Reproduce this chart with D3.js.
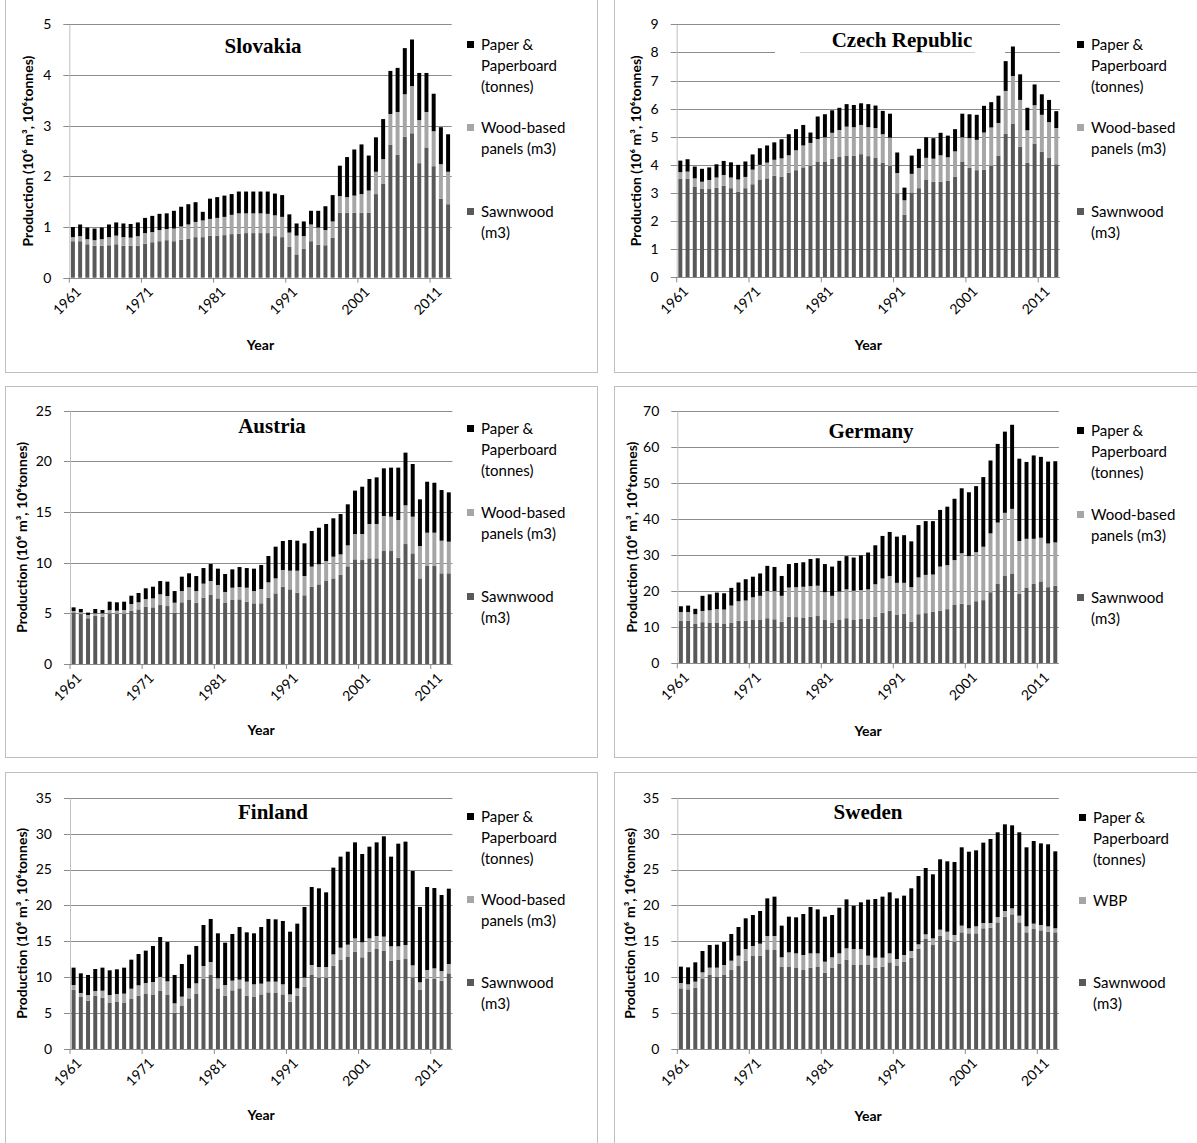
<!DOCTYPE html>
<html>
<head>
<meta charset="utf-8">
<script src="https://cdn.jsdelivr.net/npm/d3@7"></script>
<style>
  body { margin: 0; background: #fff; }
  svg { display: block; }
</style>
</head>
<body>
<script>
// Production of forest products, 1961-2013
const years = [1961,1962,1963,1964,1965,1966,1967,1968,1969,1970,1971,1972,1973,1974,1975,1976,1977,1978,1979,1980,
  1981,1982,1983,1984,1985,1986,1987,1988,1989,1990,1991,1992,1993,1994,1995,1996,1997,1998,1999,2000,
  2001,2002,2003,2004,2005,2006,2007,2008,2009,2010,2011,2012,2013];
const tickYears = [1961, 1971, 1981, 1991, 2001, 2011];
const seriesKeys = ["sawnwood", "panels", "paper"];

// Slovakia
const slovakiaSawnwood = [0.72,0.72,0.66,0.63,0.63,0.64,0.66,0.63,0.63,0.63,0.67,0.70,0.72,0.74,0.72,0.75,0.77,0.80,0.80,0.83,
  0.83,0.84,0.86,0.87,0.88,0.88,0.88,0.88,0.82,0.80,0.61,0.46,0.57,0.72,0.65,0.64,0.79,1.28,1.28,1.28,
  1.28,1.28,1.65,1.85,2.62,2.43,2.78,2.85,2.26,2.57,2.20,1.56,1.45];
const slovakiaPanels = [0.08,0.10,0.10,0.11,0.13,0.16,0.17,0.17,0.16,0.19,0.21,0.20,0.22,0.22,0.25,0.26,0.28,0.30,0.33,0.33,
  0.35,0.36,0.38,0.40,0.39,0.39,0.39,0.38,0.41,0.40,0.28,0.37,0.25,0.33,0.34,0.30,0.32,0.33,0.31,0.34,
  0.37,0.44,0.44,0.49,0.61,0.84,0.84,0.93,0.85,0.70,0.69,0.68,0.64];
const slovakiaPaper = [0.20,0.23,0.23,0.23,0.23,0.25,0.26,0.27,0.27,0.27,0.30,0.32,0.32,0.31,0.35,0.39,0.40,0.39,0.17,0.40,
  0.41,0.42,0.41,0.43,0.43,0.43,0.43,0.44,0.43,0.43,0.36,0.24,0.29,0.27,0.33,0.47,0.52,0.60,0.79,0.91,
  0.98,0.69,0.68,0.79,0.85,0.87,0.91,0.92,0.93,0.77,0.74,0.73,0.74];

// Czech Republic
const czechSawnwood = [3.50,3.50,3.23,3.14,3.14,3.19,3.26,3.17,3.05,3.17,3.31,3.48,3.52,3.61,3.57,3.72,3.81,3.91,3.97,4.12,
  4.12,4.22,4.28,4.33,4.33,4.38,4.31,4.26,4.08,3.97,2.99,2.22,3.02,3.17,3.48,3.40,3.40,3.44,3.57,4.12,
  3.90,3.81,3.83,3.97,4.33,5.10,5.47,4.64,4.07,4.76,4.47,4.26,4.02];
const czechPanels = [0.24,0.26,0.29,0.26,0.32,0.36,0.38,0.38,0.43,0.40,0.52,0.52,0.56,0.57,0.66,0.62,0.71,0.78,0.81,0.80,
  0.86,0.92,0.96,1.03,1.01,1.04,1.03,1.05,1.01,1.00,0.72,0.52,0.66,0.72,0.77,0.82,0.94,0.83,0.91,0.86,
  1.05,1.08,1.32,1.36,1.16,1.53,1.69,1.67,1.16,1.36,1.31,1.26,1.29];
const czechPaper = [0.41,0.44,0.42,0.46,0.45,0.47,0.50,0.54,0.52,0.55,0.54,0.59,0.61,0.62,0.68,0.75,0.75,0.73,0.37,0.80,
  0.82,0.80,0.79,0.80,0.79,0.77,0.82,0.80,0.83,0.85,0.73,0.45,0.65,0.68,0.73,0.73,0.80,0.77,0.79,0.84,
  0.85,0.89,0.95,0.90,0.97,1.06,1.05,0.91,0.80,0.74,0.73,0.79,0.60];

// Austria
const austriaSawnwood = [5.10,4.93,4.51,4.74,4.67,5.00,4.97,4.97,5.26,5.39,5.66,5.59,5.82,5.72,5.07,6.09,6.32,6.05,6.55,6.81,
  6.48,6.02,6.32,6.38,6.15,5.99,5.99,6.55,6.97,7.63,7.37,7.04,6.78,7.63,7.86,8.19,8.45,8.82,9.64,10.33,
  10.26,10.43,10.43,11.15,11.15,10.49,11.84,10.92,8.45,9.67,9.67,8.95,8.95];
const austriaPanels = [0.13,0.17,0.33,0.26,0.33,0.33,0.29,0.36,0.66,0.70,0.75,0.89,1.06,0.99,0.98,1.11,1.25,1.15,1.38,1.38,
  1.32,1.09,1.21,1.22,1.38,1.21,1.41,1.51,1.48,1.65,1.84,2.17,1.90,1.98,1.98,1.97,2.14,2.00,2.07,2.50,
  2.57,3.39,3.39,3.46,3.39,3.72,3.82,3.62,3.19,3.29,3.29,3.22,3.12];
const austriaPaper = [0.36,0.33,0.23,0.43,0.33,0.82,0.83,0.82,0.82,0.92,1.06,1.15,1.31,1.42,1.15,1.42,1.38,1.48,1.54,1.68,
  1.61,1.77,1.81,1.97,1.94,2.21,2.37,2.60,3.13,2.86,3.03,2.96,3.23,3.52,3.61,3.66,3.79,3.98,4.05,4.28,
  4.67,4.44,4.60,4.70,4.84,5.17,5.20,5.20,4.61,5.03,4.93,5.00,4.87];

// Germany
const germanySawnwood = [11.8,11.8,10.9,11.4,11.3,11.3,10.9,11.3,11.8,11.8,12.0,12.0,12.5,12.2,11.5,12.9,12.8,12.7,12.9,13.1,
  12.0,11.3,12.0,12.5,12.0,12.3,12.3,12.9,14.0,14.6,13.4,13.7,11.5,13.6,13.9,14.3,14.6,15.0,16.3,16.5,
  16.3,17.2,17.5,19.7,22.1,24.2,24.9,19.2,21.0,22.1,22.7,21.1,21.5];
const germanyPanels = [2.4,2.4,2.7,3.1,3.4,3.7,4.0,4.7,5.4,5.6,6.3,6.7,7.5,7.8,7.2,8.1,8.3,8.5,8.5,8.4,
  7.7,7.4,7.9,8.0,8.1,8.0,8.2,9.0,9.5,9.6,8.9,8.6,9.6,10.2,10.6,10.3,12.2,12.2,12.3,14.0,
  13.4,13.6,14.8,16.3,16.9,17.5,17.9,14.7,13.5,12.4,12.1,12.1,12.0];
const germanyPaper = [1.6,1.8,1.5,4.2,4.4,4.6,4.5,4.9,5.2,5.9,5.7,6.2,7.0,6.7,5.5,6.5,6.7,6.8,7.5,7.6,
  7.8,8.1,8.5,9.2,9.2,9.6,10.2,10.8,11.8,12.2,12.8,13.2,12.7,14.5,14.9,14.8,15.7,16.2,17.0,18.0,
  17.7,18.3,19.3,20.2,21.8,22.5,23.3,22.8,21.3,23.1,22.4,22.7,22.5];

// Finland
const finlandSawnwood = [8.26,7.24,6.73,7.43,7.15,6.41,6.55,6.41,6.96,7.43,7.66,7.52,8.08,7.52,5.06,5.99,7.06,7.66,9.80,10.31,
  8.45,7.43,8.17,8.45,7.43,7.24,7.61,7.89,7.80,7.61,6.59,7.43,8.68,10.31,9.94,9.94,11.61,12.40,12.81,13.56,
  12.77,13.56,13.93,13.70,12.30,12.40,12.53,9.98,8.22,9.84,9.75,9.52,10.54];
const finlandPanels = [0.65,0.56,0.79,0.65,0.97,1.11,1.11,1.30,1.44,1.44,1.53,1.81,1.95,1.90,1.30,1.30,1.39,1.49,1.76,1.81,
  1.39,1.48,1.35,1.21,1.95,1.77,1.49,1.49,1.58,1.40,1.02,1.02,1.26,1.39,1.48,1.48,1.57,1.71,1.72,1.85,
  2.09,1.85,1.81,1.95,2.00,1.90,1.95,1.67,1.07,1.16,1.48,1.34,1.30];
const finlandPaper = [2.42,2.74,2.79,3.06,3.21,3.44,3.44,3.62,4.04,4.36,4.51,5.02,5.57,5.48,3.95,4.55,4.69,5.20,5.71,5.99,
  6.27,5.90,6.50,7.33,6.87,7.10,7.89,8.73,8.68,8.82,8.73,9.01,9.84,10.86,10.96,10.40,12.08,12.68,12.95,13.37,
  12.30,12.77,13.04,13.97,12.49,14.30,14.40,13.14,10.49,11.56,11.19,10.59,10.49];

// Sweden
const swedenSawnwood = [8.45,8.31,8.54,9.84,10.31,10.03,10.31,11.00,11.56,12.30,12.95,13.00,13.88,13.79,11.42,11.42,11.28,11.00,11.33,11.42,
  10.63,11.28,11.84,12.40,11.70,11.70,11.70,11.33,11.47,12.07,11.56,12.16,12.72,13.93,15.32,14.48,15.78,15.18,14.95,16.25,
  16.11,16.11,16.81,16.90,17.64,18.43,18.76,17.64,16.25,16.71,16.53,16.34,16.25];
const swedenWBP = [0.74,0.70,0.84,0.84,1.02,1.30,1.39,1.30,1.44,1.63,1.40,1.67,1.86,1.95,1.35,2.04,2.04,2.09,1.99,1.90,
  1.53,1.49,1.48,1.62,2.23,2.23,1.30,1.39,1.25,1.25,0.97,0.93,0.93,0.65,0.65,0.93,0.84,1.16,0.93,0.93,
  0.70,0.97,0.74,0.65,0.74,0.79,0.83,0.93,0.83,0.75,0.74,0.74,0.56];
const swedenPaper = [2.28,2.36,2.69,2.97,3.15,3.20,3.20,3.72,3.99,4.27,4.31,4.55,5.24,5.48,4.41,4.97,5.02,5.71,6.46,6.13,
  6.27,5.89,6.36,6.82,6.03,6.50,7.80,8.17,8.50,8.50,8.45,8.27,8.73,9.51,9.24,8.92,9.80,9.80,10.16,10.91,
  10.67,10.59,11.19,11.70,11.80,12.07,11.56,11.61,11.01,11.51,11.37,11.43,10.72];

const legendStandard = [["Paper &", "Paperboard", "(tonnes)"], ["Wood-based", "panels (m3)"], ["Sawnwood", "(m3)"]];
const legendSweden = [["Paper &", "Paperboard", "(tonnes)"], ["WBP"], ["Sawnwood", "(m3)"]];

const colors = { sawnwood: "#595959", panels: "#a6a6a6", paper: "#000000" };

const panels = [
  { title: "Slovakia", saw: slovakiaSawnwood, wbp: slovakiaPanels, paper: slovakiaPaper, yMax: 5, yStep: 1,
    box: [5, -2, 592, 374], plot: [69.3, 451.7, 24.3, 277.7], titleXY: [263, 53], yLabelX: 28, yearY: 350,
    legendX: 470, legendY: [45, 128, 212], legend: legendStandard },
  { title: "Czech Republic", saw: czechSawnwood, wbp: czechPanels, paper: czechPaper, yMax: 9, yStep: 1,
    box: [614, -2, 600, 374], plot: [676.7, 1059.9, 24.3, 277.3], titleXY: [902, 47], yLabelX: 636, yearY: 350,
    legendX: 1080, legendY: [45, 128, 212], legend: legendStandard, titleBox: [775, 1005] },
  { title: "Austria", saw: austriaSawnwood, wbp: austriaPanels, paper: austriaPaper, yMax: 25, yStep: 5,
    box: [5, 386, 592, 371], plot: [70, 452.4, 410.7, 664], titleXY: [272, 433], yLabelX: 22, yearY: 735,
    legendX: 470, legendY: [429, 513, 597], legend: legendStandard },
  { title: "Germany", saw: germanySawnwood, wbp: germanyPanels, paper: germanyPaper, yMax: 70, yStep: 10,
    box: [614, 386, 600, 371], plot: [677.3, 1058.9, 410.7, 663.3], titleXY: [871, 438], yLabelX: 632, yearY: 736,
    legendX: 1080, legendY: [431, 515, 598], legend: legendStandard },
  { title: "Finland", saw: finlandSawnwood, wbp: finlandPanels, paper: finlandPaper, yMax: 35, yStep: 5,
    box: [5, 772, 592, 380], plot: [70, 452.4, 797.7, 1049], titleXY: [273, 819], yLabelX: 22, yearY: 1120,
    legendX: 470, legendY: [817, 900, 983], legend: legendStandard },
  { title: "Sweden", saw: swedenSawnwood, wbp: swedenWBP, paper: swedenPaper, yMax: 35, yStep: 5,
    box: [614, 772, 600, 380], plot: [677.3, 1058.9, 797.7, 1049], titleXY: [868, 819], yLabelX: 630, yearY: 1121,
    legendX: 1082, legendY: [818, 901, 983], legend: legendSweden }
];

const svg = d3.select("body").append("svg")
  .attr("width", 1197).attr("height", 1143)
  .style("font-family", "Lato, 'Liberation Sans', sans-serif");

panels.forEach(p => drawPanel(p));

function drawPanel(p) {
  const [bx, by, bw, bh] = p.box;
  svg.append("rect").attr("x", bx + 0.5).attr("y", by + 0.5).attr("width", bw).attr("height", bh)
    .attr("fill", "none").attr("stroke", "#bfbfbf").attr("stroke-width", 1);

  const [x0, x1, yTop, yBot] = p.plot;
  const rows = years.map((yr, i) => ({ year: yr, sawnwood: p.saw[i], panels: p.wbp[i], paper: p.paper[i] }));
  const stacked = d3.stack().keys(seriesKeys)(rows);

  const x = d3.scaleBand().domain(years).range([x0, x1]).paddingInner(0.45).paddingOuter(0.225);
  const y = d3.scaleLinear().domain([0, p.yMax]).range([yBot, yTop]);
  const ticks = d3.range(0, p.yMax + p.yStep / 2, p.yStep);

  const g = svg.append("g");

  // horizontal gridlines with short outer ticks
  g.append("g").selectAll("line").data(ticks.filter(t => t > 0)).join("line")
    .attr("x1", x0 - 6).attr("x2", x1)
    .attr("y1", d => Math.round(y(d)) + 0.5).attr("y2", d => Math.round(y(d)) + 0.5)
    .attr("stroke", "#8c8c8c").attr("stroke-width", 1);

  // white label box behind the title, with a faint lower edge
  if (p.titleBox) {
    const [tx0, tx1] = p.titleBox;
    const gy = Math.round(y(p.yMax - 1)) + 0.5;
    g.append("rect").attr("x", tx0).attr("y", gy - 26).attr("width", tx1 - tx0).attr("height", 28)
      .attr("fill", "#fff");
    g.append("line").attr("x1", tx0 + 25).attr("x2", tx1 - 30).attr("y1", gy).attr("y2", gy)
      .attr("stroke", "#d0d0d0");
  }

  // stacked bars
  g.append("g").selectAll("g").data(stacked).join("g")
    .attr("fill", d => colors[d.key])
    .selectAll("rect").data(d => d).join("rect")
    .attr("x", d => x(d.data.year))
    .attr("width", x.bandwidth())
    .attr("y", d => y(d[1]))
    .attr("height", d => Math.max(0, y(d[0]) - y(d[1])));

  // y axis
  const yAxis = d3.axisLeft(y).tickValues(ticks).tickSize(0).tickPadding(18).tickFormat(d3.format("d"));
  const ya = g.append("g").attr("transform", `translate(${x0},0)`).call(yAxis);
  ya.select(".domain").attr("stroke", "#bfbfbf");
  ya.selectAll("text").attr("font-size", 14).attr("fill", "#000").style("font-family", "Lato, sans-serif");

  // x axis: tick marks at category boundaries every ten years
  g.append("line").attr("x1", x0 - 6).attr("x2", x1)
    .attr("y1", Math.round(yBot) + 0.5).attr("y2", Math.round(yBot) + 0.5)
    .attr("stroke", "#8c8c8c");
  g.append("g").selectAll("line").data(tickYears).join("line")
    .attr("x1", d => x(d) - x.step() * 0.225).attr("x2", d => x(d) - x.step() * 0.225)
    .attr("y1", yBot).attr("y2", yBot + 5).attr("stroke", "#8c8c8c");
  g.append("g").selectAll("text").data(tickYears).join("text")
    .attr("transform", d => `translate(${x(d) + x.bandwidth() / 2 + 9},${yBot + 15}) rotate(-45)`)
    .attr("text-anchor", "end").attr("font-size", 14).attr("fill", "#000")
    .text(d => d);

  // axis titles
  g.append("text").attr("x", (x0 + x1) / 2).attr("y", p.yearY)
    .attr("text-anchor", "middle").attr("font-size", 14).attr("font-weight", "bold").text("Year");
  g.append("text")
    .attr("transform", `translate(${p.yLabelX + 5},${(yTop + yBot) / 2}) rotate(-90)`)
    .attr("text-anchor", "middle").attr("font-size", 14).attr("font-weight", "bold")
    .text("Production (10⁶ m³, 10⁶tonnes)");

  // chart title
  g.append("text").attr("x", p.titleXY[0]).attr("y", p.titleXY[1])
    .attr("text-anchor", "middle").attr("font-size", 21).attr("font-weight", "bold")
    .style("font-family", "'Liberation Serif', 'DejaVu Serif', serif")
    .text(p.title);

  // legend
  const legendColors = [colors.paper, colors.panels, colors.sawnwood];
  p.legend.forEach((lines, k) => {
    const cy = p.legendY[k];
    g.append("rect").attr("x", p.legendX - 3).attr("y", cy - 4).attr("width", 7).attr("height", 7)
      .attr("fill", legendColors[k]);
    lines.forEach((ln, j) => {
      g.append("text").attr("x", p.legendX + 11).attr("y", cy + 5 + j * 21)
        .attr("font-size", 15).attr("fill", "#000").text(ln);
    });
  });
}
</script>
</body>
</html>
